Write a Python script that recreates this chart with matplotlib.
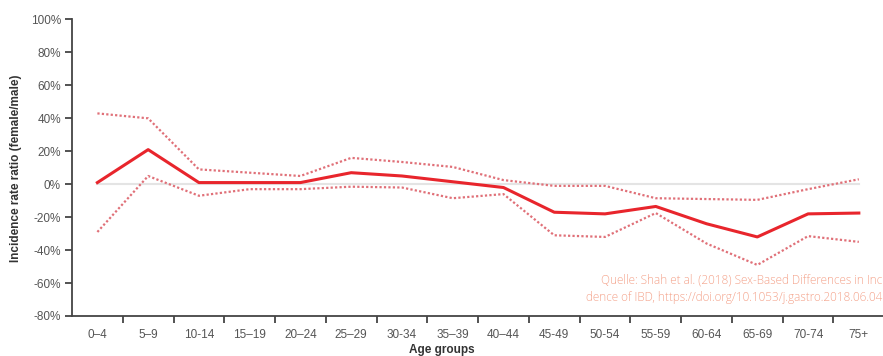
import matplotlib
matplotlib.use("Agg")
import matplotlib.pyplot as plt

age_groups = ["0\u20134", "5\u20139", "10-14", "15\u201319", "20\u201324", "25\u201329", "30-34",
              "35\u201339", "40\u201344", "45-49", "50-54", "55-59", "60-64", "65-69", "70-74", "75+"]
ratio = [1, 21, 1, 1, 1, 7, 5, 1.5, -2, -17, -18, -13.5, -24, -32, -18, -17.5]
upper_ci = [43, 40, 9, 7, 5, 16, 13.5, 10.5, 2.5, -1, -1, -8.5, -9, -9.5, -3, 3]
lower_ci = [-29, 5, -7, -3, -3, -1.5, -2, -8.5, -6, -31, -32, -17.5, -36, -49, -31.5, -35]
y_ticks = [100, 80, 60, 40, 20, 0, -20, -40, -60, -80]

fig = plt.figure(figsize=(8.83, 3.56), dpi=100)
ax = fig.add_axes([72 / 883, 40 / 356, 1 - 72 / 883 + 0.01, (316 - 19.5) / 356])

x = list(range(len(age_groups)))
ax.plot([x[0], x[-1]], [0, 0], color="#e4e4e4", lw=1.5, zorder=1)
ax.plot(x, upper_ci, color="#e07078", lw=1.6, ls=(0, (1, 1)), zorder=2)
ax.plot(x, lower_ci, color="#e07078", lw=1.6, ls=(0, (1, 1)), zorder=2)
ax.plot(x, ratio, color="#e8252c", lw=2.2, zorder=3)

ax.set_xlim(-0.5, 15.65)
ax.set_ylim(-80, 100)
ax.set_yticks(y_ticks)
ax.set_yticklabels([f"{v}%" for v in y_ticks])
ax.set_xticks(x)
ax.set_xticklabels(age_groups)
ax.set_xticks([i + 0.5 for i in x[:-1]], minor=True)

for s in ["top", "right"]:
    ax.spines[s].set_visible(False)
for s in ["left", "bottom"]:
    ax.spines[s].set_color("#444444")
    ax.spines[s].set_linewidth(1.3)

ax.tick_params(axis="y", which="major", length=5, width=1.3, color="#444444",
               labelsize=8.5, labelcolor="#555555", pad=3)
ax.tick_params(axis="x", which="major", length=0, labelsize=8.5, labelcolor="#555555", pad=9)
ax.tick_params(axis="x", which="minor", length=5, width=1.3, color="#444444")
for lab in ax.get_xticklabels() + ax.get_yticklabels():
    lab.set_family("Liberation Sans")

ax.set_ylabel("Incidence rate ratio (female/male)", family="Liberation Sans",
              fontsize=8.5, fontweight="bold", color="#333333", labelpad=6)
fig.text(0.5, 1 - 350 / 356, "Age groups", ha="center", va="center", family="Liberation Sans",
         fontsize=8.5, fontweight="bold", color="#333333")

source_color = "#f4a28a"
fig.text(882 / 883, 1 - 280 / 356, "Quelle: Shah et al. (2018) Sex-Based Differences in Inc",
         ha="right", va="center", family="Open Sans", fontsize=8.5, fontweight="light",
         color=source_color)
fig.text(882 / 883, 1 - 297 / 356, "dence of IBD, https://doi.org/10.1053/j.gastro.2018.06.04",
         ha="right", va="center", family="Open Sans", fontsize=8.5, fontweight="light",
         color=source_color)

fig.savefig("out.png", dpi=100)
